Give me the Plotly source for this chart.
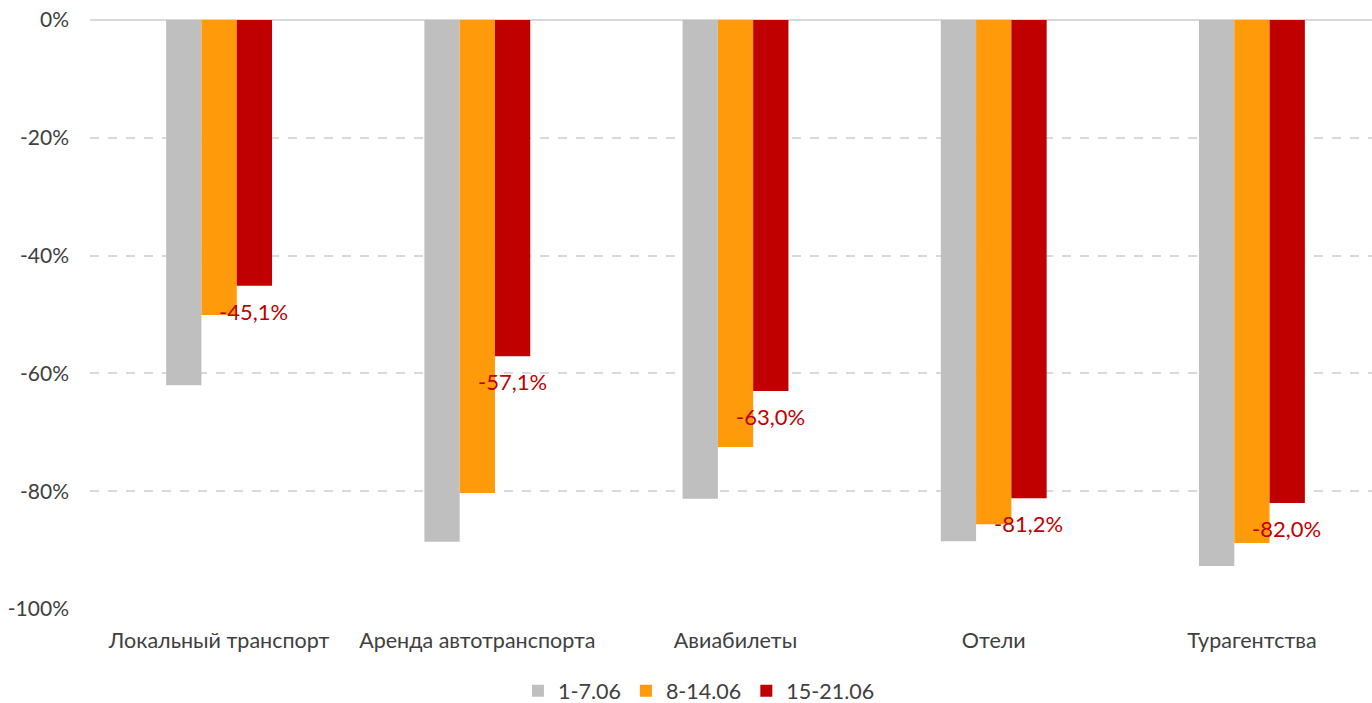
import plotly.graph_objects as go

categories = ["Локальный транспорт", "Аренда автотранспорта", "Авиабилеты", "Отели", "Турагентства"]
series_names = ["1-7.06", "8-14.06", "15-21.06"]
s1 = [-62.0, -88.6, -81.3, -88.5, -92.7]
s2 = [-50.1, -80.3, -72.5, -85.6, -88.8]
s3 = [-45.1, -57.1, -63.0, -81.2, -82.0]
y_ticks = [0, -20, -40, -60, -80, -100]
y_ticktext = ["0%", "-20%", "-40%", "-60%", "-80%", "-100%"]
colors = ["#BFBFBF", "#FF9A0A", "#C00000"]

font_family = "Lato, 'Open Sans', 'Noto Sans', sans-serif"

fig = go.Figure()
for name, vals, c in zip(series_names, [s1, s2, s3], colors):
    fig.add_trace(go.Bar(x=list(range(len(categories))), y=vals, name=name,
                         marker=dict(color=c, line=dict(width=0))))

for i, v in enumerate(s3):
    fig.add_annotation(x=i + 0.135, y=v, xref="x", yref="y",
                       text=f"{v:.1f}%".replace(".", ","),
                       showarrow=False, yanchor="top", yshift=-10,
                       font=dict(color="#C00000", size=22, family=font_family))

fig.update_layout(
    barmode="group", bargap=0.59, bargroupgap=0,
    width=1372, height=703,
    plot_bgcolor="white", paper_bgcolor="white",
    margin=dict(l=90, r=0, t=20, b=94, autoexpand=False),
    font=dict(family=font_family, size=21.5, color="#404040"),
    legend=dict(orientation="h", x=0.475, xanchor="center", y=-0.139, yanchor="middle",
                font=dict(size=21.5, color="#404040"), itemwidth=30, traceorder="normal"),
    showlegend=True,
)
fig.update_xaxes(tickmode="array", tickvals=list(range(len(categories))), ticktext=categories,
                 range=[-0.5, len(categories) - 0.535], showgrid=False, showline=False,
                 ticks="", zeroline=False, automargin=False, ticklabelstandoff=16,
                 ticklabeloverflow="allow",
                 tickfont=dict(size=21.5, color="#404040"))
fig.update_yaxes(range=[-100, 0], tickmode="array", tickvals=y_ticks, ticktext=y_ticktext,
                 showgrid=True, automargin=False, ticklabelstandoff=20,
                 ticklabeloverflow="allow",
                 gridcolor="#D9D9D9", griddash="dash", gridwidth=1.5,
                 zeroline=True, zerolinecolor="#D9D9D9", zerolinewidth=2,
                 showline=False, ticks="", tickfont=dict(size=21, color="#404040"))

fig.write_html("out.html", config={"displayModeBar": False},
               post_script="document.body.style.margin='0';document.body.style.overflow='hidden';")
